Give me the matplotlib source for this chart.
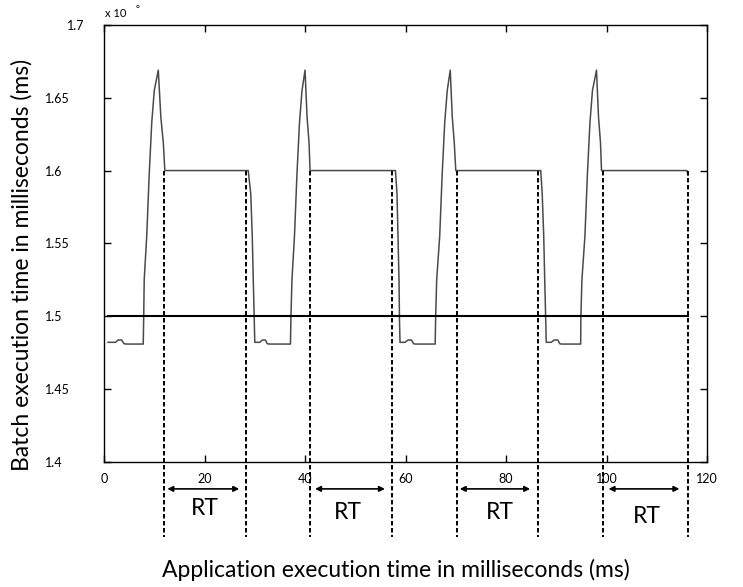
import matplotlib
matplotlib.use("Agg")
import matplotlib.pyplot as plt

plt.rcParams["font.family"] = ["Lato", "DejaVu Sans"]

# batch execution time curve (x in ms, y in units of 10^0 ms)
curve_x = [0.8, 2.3, 2.8, 3.5, 4.0, 4.5, 7.8,
           7.9, 8.0, 8.5, 9.0, 9.5, 10.0, 10.8, 11.3, 11.8, 12.1,
           28.7, 29.2, 29.5, 29.7, 29.9, 30.0,
           31.0, 31.5, 32.1, 32.5, 33.0, 37.1,
           37.2, 37.4, 37.9, 38.4, 38.9, 39.4, 40.0, 40.4, 40.8, 41.0,
           58.0, 58.3, 58.5, 58.7, 58.8, 58.9,
           59.9, 60.5, 61.2, 61.6, 62.0, 65.9,
           66.0, 66.2, 66.8, 67.3, 67.8, 68.3, 68.9, 69.3, 69.7, 70.0,
           86.9, 87.2, 87.5, 87.7, 87.9, 88.0,
           89.0, 89.6, 90.3, 90.7, 91.1, 94.85,
           94.9, 95.1, 95.7, 96.2, 96.7, 97.2, 98.0, 98.4, 98.8, 99.0,
           116.0, 116.2]
curve_y = [1.482, 1.482, 1.4836, 1.4836, 1.481, 1.4808, 1.4808,
           1.500, 1.525, 1.555, 1.598, 1.633, 1.655, 1.669, 1.637, 1.619, 1.600,
           1.600, 1.584, 1.555, 1.525, 1.497, 1.482,
           1.482, 1.4836, 1.4836, 1.481, 1.4808, 1.4808,
           1.500, 1.525, 1.555, 1.598, 1.633, 1.655, 1.669, 1.637, 1.619, 1.600,
           1.600, 1.584, 1.555, 1.525, 1.497, 1.482,
           1.482, 1.4836, 1.4836, 1.481, 1.4808, 1.4808,
           1.500, 1.525, 1.555, 1.598, 1.633, 1.655, 1.669, 1.637, 1.619, 1.600,
           1.600, 1.584, 1.555, 1.525, 1.497, 1.482,
           1.482, 1.4836, 1.4836, 1.481, 1.4808, 1.4808,
           1.500, 1.525, 1.555, 1.598, 1.633, 1.655, 1.669, 1.637, 1.619, 1.600,
           1.600, 1.597]

threshold = 1.5
threshold_x = [0.8, 116.3]

# response time markers
dash_x = [11.9, 28.2, 41.0, 57.4, 70.3, 86.4, 99.2, 116.3]
dash_top = 1.6
dash_bottom = 1.348
rt_spans = [(12.6, 26.9), (42.0, 55.9), (70.8, 84.8), (100.4, 114.5)]
rt_arrow_y = 1.3813
rt_label_x = [20.1, 48.6, 78.8, 108.1]
rt_label_y = [1.368, 1.365, 1.365, 1.3625]

xticks = [0, 20, 40, 60, 80, 100, 120]
yticks = [1.4, 1.45, 1.5, 1.55, 1.6, 1.65, 1.7]
ytick_labels = ["1.4", "1.45", "1.5", "1.55", "1.6", "1.65", "1.7"]

fig = plt.figure(figsize=(7.43, 5.87), dpi=100)
ax = fig.add_axes([0.140, 0.2135, 0.8116, 0.7439])

ax.plot(curve_x, curve_y, color="#4a4a4a", lw=1.1)
ax.plot(threshold_x, [threshold, threshold], color="black", lw=1.5)

for x in dash_x:
    ax.plot([x, x], [dash_top, dash_bottom], color="black", lw=1.4,
            dashes=(2.3, 1.3), clip_on=False)

for (x0, x1) in rt_spans:
    ax.annotate("", xy=(x0, rt_arrow_y), xytext=(x1, rt_arrow_y),
                annotation_clip=False,
                arrowprops=dict(arrowstyle="<|-|>", color="black", lw=1.2,
                                mutation_scale=8, shrinkA=0, shrinkB=0))
for x, y in zip(rt_label_x, rt_label_y):
    ax.text(x, y, "RT", ha="center", va="center", fontsize=16.5, clip_on=False)

ax.set_xlim(0, 120)
ax.set_ylim(1.4, 1.7)
ax.set_xticks(xticks)
ax.set_yticks(yticks, ytick_labels)
ax.tick_params(direction="in", length=5, width=1, top=True, right=True,
               labelsize=9)
ax.tick_params(axis="x", pad=8.5)
ax.tick_params(axis="y", pad=42.5)
for lab in ax.get_yticklabels():
    lab.set_horizontalalignment("left")
ax.yaxis.get_major_ticks()[-1].set_pad(26.6)
for sp in ax.spines.values():
    sp.set_linewidth(1.0)

ax.text(0.002, 1.026, "x 10", transform=ax.transAxes, fontsize=8,
        va="center", ha="left")
ax.text(0.053, 1.036, "°", transform=ax.transAxes, fontsize=7,
        va="center", ha="left")

ax.set_xlabel("Application execution time in milliseconds (ms)", fontsize=16.5)
ax.set_ylabel("Batch execution time in milliseconds (ms)", fontsize=16.5)
ax.xaxis.set_label_coords(0.484, -0.222)
ax.yaxis.set_label_coords(-0.119, 0.45)

fig.savefig("out.png", dpi=100)
